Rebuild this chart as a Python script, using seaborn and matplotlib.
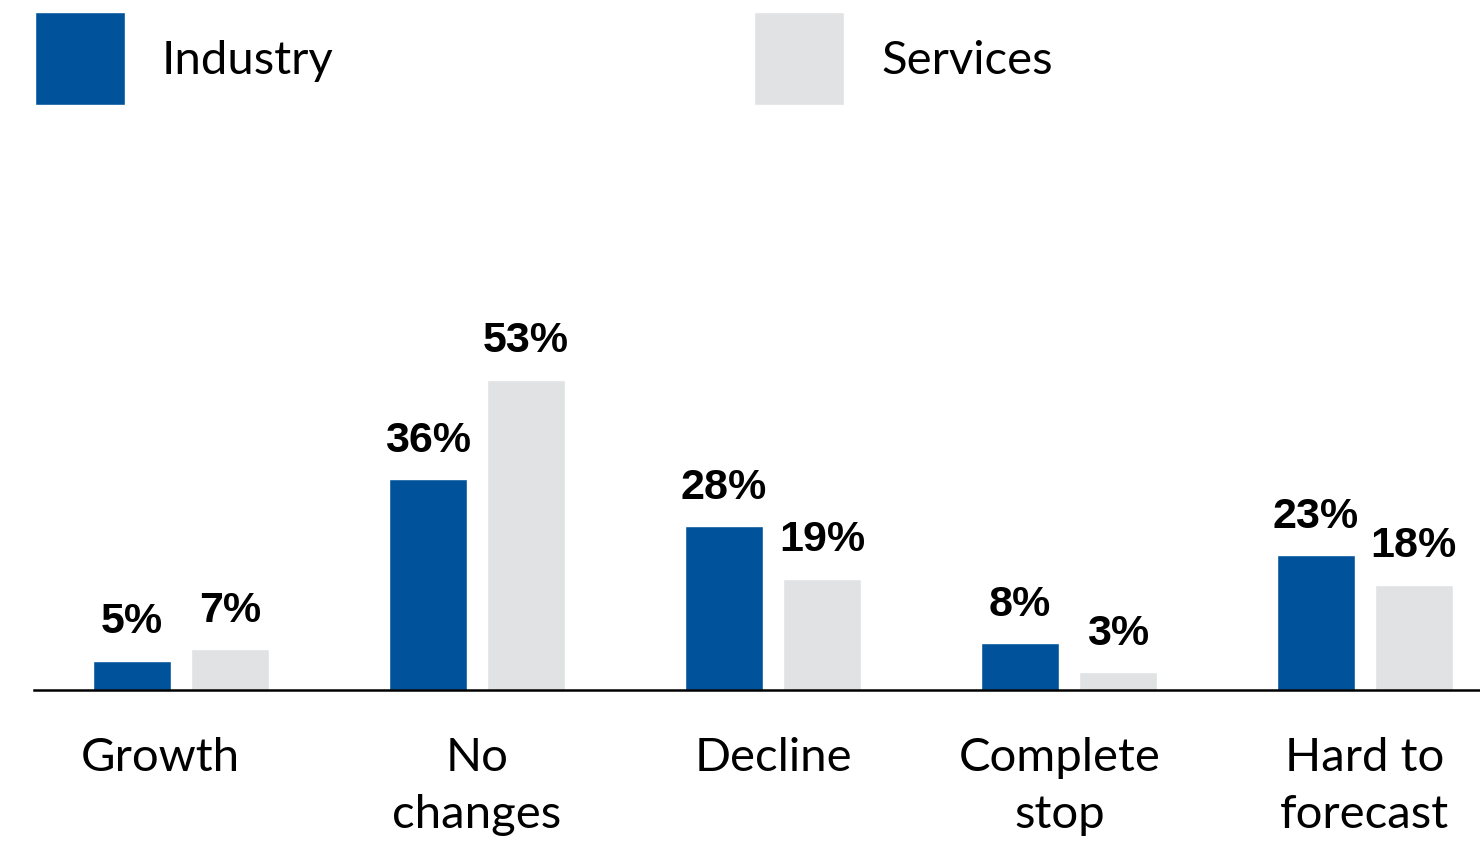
import matplotlib
matplotlib.use("Agg")
import matplotlib.pyplot as plt
import matplotlib.transforms as mtransforms
import seaborn as sns
import pandas as pd

# Survey answers per category, in percent
categories = ["Growth", "No\nchanges", "Decline", "Complete\nstop", "Hard to\nforecast"]
industry = [5, 36, 28, 8, 23]
services = [7, 53, 19, 3, 18]
series_names = ["Industry", "Services"]

BLUE = "#00539B"
GRAY = "#E1E2E4"

df = pd.DataFrame({
    "category": categories * 2,
    "sector": [series_names[0]] * len(categories) + [series_names[1]] * len(categories),
    "share": industry + services,
})

sns.set_theme(style="white")
plt.rcParams["font.family"] = ["Lato", "DejaVu Sans"]

fig = plt.figure(figsize=(14.8, 8.45), dpi=100)
ax = fig.add_axes([34 / 1480, (845 - 691) / 845, 1446 / 1480, 571 / 845])

sns.barplot(
    data=df, x="category", y="share", hue="sector",
    palette=[BLUE, GRAY], width=0.662, gap=0.204,
    saturation=1, ax=ax, legend=True,
)

ax.set_xlim(-0.497, 4.389)
ax.set_ylim(0, 97.6)

# Value labels above each bar
for container, vals in zip(ax.containers, [industry, services]):
    ax.bar_label(
        container, labels=[f"{v}%" for v in vals], padding=14,
        fontsize=31, fontweight="bold", family="Liberation Sans", color="black",
    )

for s in ["top", "right", "left"]:
    ax.spines[s].set_visible(False)
ax.spines["bottom"].set_color("black")
ax.spines["bottom"].set_linewidth(1.8)

ax.set_yticks([])
ax.set_xlabel("")
ax.set_ylabel("")
ax.tick_params(axis="x", length=0, pad=33, labelsize=34, labelcolor="black")
# small horizontal nudges of the category captions (points)
nudges = [-15, 0, 0, -7, 0]
for lbl, dx in zip(ax.get_xticklabels(), nudges):
    lbl.set_linespacing(1.45)
    lbl.set_fontweight("normal")
    lbl.set_transform(lbl.get_transform() + mtransforms.ScaledTranslation(dx / 72, 0, fig.dpi_scale_trans))

sns.move_legend(
    ax, "upper left", bbox_to_anchor=(35 / 1480, 1 - 13 / 845),
    bbox_transform=fig.transFigure, ncol=2, title=None, frameon=False,
    fontsize=34, handlelength=1.906, handleheight=2.65, handletextpad=0.78,
    columnspacing=8.91, borderpad=0, borderaxespad=0, labelcolor="black",
)

fig.savefig("out.png", dpi=100)
